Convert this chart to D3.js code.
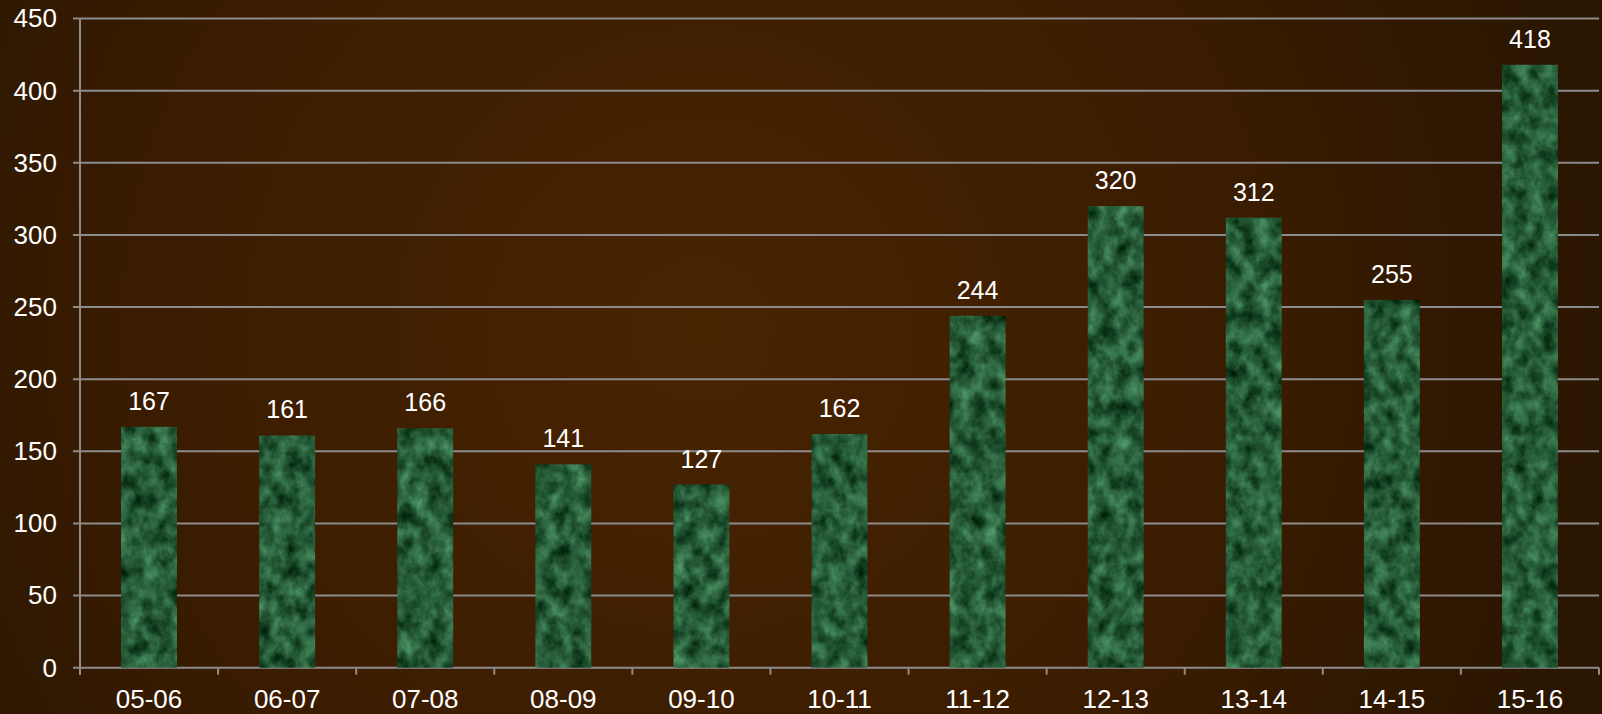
<!DOCTYPE html>
<html><head><meta charset="utf-8">
<script src="https://cdn.jsdelivr.net/npm/d3@7"></script>
<style>html,body{margin:0;padding:0;background:#331a02;overflow:hidden}</style>
</head><body>
<svg id="chart" width="1602" height="714"></svg>
<script>
const categories = ["05-06","06-07","07-08","08-09","09-10","10-11","11-12","12-13","13-14","14-15","15-16"];
const values = [167,161,166,141,127,162,244,320,312,255,418];
const yTicks = [0,50,100,150,200,250,300,350,400,450];

(function(){
const W = 1602, H = 714;
const pLeft = 80, pRight = 1599, pTop = 18.6, pBottom = 667.7;
const font = "'Liberation Sans', Arial, sans-serif";

const svg = d3.select("#chart");
const defs = svg.append("defs");

const bg = defs.append("radialGradient").attr("id","bg")
  .attr("gradientUnits","userSpaceOnUse").attr("cx",700).attr("cy",330).attr("r",900);
bg.append("stop").attr("offset","0").attr("stop-color","#482401");
bg.append("stop").attr("offset","0.55").attr("stop-color","#3c1d01");
bg.append("stop").attr("offset","1").attr("stop-color","#2b1601");

const f = defs.append("filter").attr("id","marble")
  .attr("color-interpolation-filters","sRGB")
  .attr("filterUnits","userSpaceOnUse").attr("x",0).attr("y",0).attr("width",W).attr("height",H);
f.append("feTurbulence").attr("type","fractalNoise").attr("baseFrequency","0.07 0.055")
  .attr("numOctaves",4).attr("seed",7).attr("result","noise");
f.append("feColorMatrix").attr("in","noise").attr("type","matrix")
  .attr("values","0.42 0 0 0 -0.06  0.62 0 0 0 0.05  0.5 0 0 0 -0.03  0 0 0 0 1")
  .attr("result","col");
f.append("feComposite").attr("in","col").attr("in2","SourceGraphic").attr("operator","in");

svg.append("rect").attr("width",W).attr("height",H).attr("fill","url(#bg)");

const x = d3.scaleBand().domain(categories).range([pLeft, pRight])
  .paddingInner(0.595).paddingOuter(0.2975);
const y = d3.scaleLinear().domain([0,450]).range([pBottom, pTop]);

svg.append("g").selectAll("line").data(yTicks).join("line")
  .attr("x1", pLeft-7).attr("x2", pRight)
  .attr("y1", d=>y(d)).attr("y2", d=>y(d))
  .attr("stroke","#8c8c8c").attr("stroke-width",2);

svg.append("line").attr("x1",pLeft).attr("x2",pLeft).attr("y1",y(450)).attr("y2",pBottom+7)
  .attr("stroke","#8c8c8c").attr("stroke-width",2);

const step = x.step();
const boundaries = d3.range(categories.length+1).map(i => pLeft + i*step);
svg.append("g").selectAll("line").data(boundaries).join("line")
  .attr("x1", d=>d).attr("x2", d=>d).attr("y1", pBottom).attr("y2", pBottom+7)
  .attr("stroke","#8c8c8c").attr("stroke-width",2);

svg.append("g").selectAll("text").data(yTicks).join("text")
  .attr("x", 57).attr("y", d=>y(d)+8.8).attr("text-anchor","end")
  .attr("font-family",font).attr("font-size",26).attr("fill","#ffffff")
  .text(d=>d);

svg.append("g").attr("filter","url(#marble)").selectAll("rect").data(values).join("rect")
  .attr("x",(d,i)=>x(categories[i])).attr("width",x.bandwidth())
  .attr("y",d=>y(d)).attr("height",d=>y(0)-y(d)).attr("fill","#000");

svg.append("g").selectAll("text").data(values).join("text")
  .attr("x",(d,i)=>x(categories[i])+x.bandwidth()/2).attr("y",d=>y(d)-17)
  .attr("text-anchor","middle").attr("font-family",font).attr("font-size",25).attr("fill","#ffffff")
  .text(d=>d);

svg.append("g").selectAll("text").data(categories).join("text")
  .attr("x",d=>x(d)+x.bandwidth()/2).attr("y",707.5)
  .attr("text-anchor","middle").attr("font-family",font).attr("font-size",26).attr("fill","#ffffff")
  .text(d=>d);
})();
</script>
</body></html>
